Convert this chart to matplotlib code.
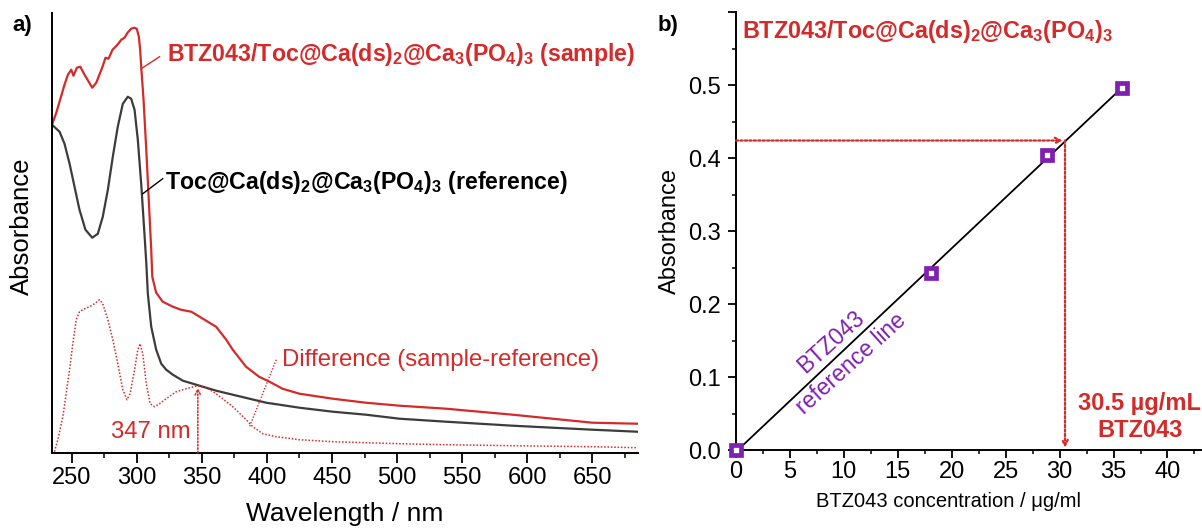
import numpy as np
import matplotlib
matplotlib.use('Agg')
import matplotlib.pyplot as plt
from matplotlib.ticker import MultipleLocator, FixedLocator

plt.rcParams['font.family'] = ['Liberation Sans', 'DejaVu Sans']
plt.rcParams['mathtext.fontset'] = 'custom'
plt.rcParams['mathtext.rm'] = 'Liberation Sans'
plt.rcParams['mathtext.bf'] = 'Liberation Sans:bold'

RED = '#d42a2a'
GREY = '#3c3c3c'
PURPLE = '#8020b0'

# panel a: UV-vis spectra (arbitrary absorbance units)
wl_sample = [235, 238.3, 244.6, 247.2, 249.8, 251.5, 254.1, 256.7, 260, 265.9, 269, 273.8,
             276.1, 278.4, 281.5, 285.3, 288.2, 290.7, 293, 295.8, 298.4, 300.1, 301.7, 302.7,
             303.5, 305.3, 307.4, 309.3, 311.2, 312, 315, 320, 327.8, 334, 342, 348.3, 354.6,
             361, 368.8, 373.8, 384, 394, 402, 412, 425, 450.6, 476, 502, 537.6, 588.8, 650, 684.3]
abs_sample = [3.28, 3.40, 3.68, 3.78, 3.83, 3.77, 3.85, 3.86, 3.78, 3.65, 3.70, 3.86,
              3.95, 3.94, 4.03, 4.08, 4.13, 4.15, 4.20, 4.24, 4.25, 4.24, 4.16, 4.03,
              3.86, 3.53, 3.03, 2.53, 2.03, 1.76, 1.60, 1.51, 1.46, 1.43, 1.41, 1.36, 1.31,
              1.26, 1.13, 1.03, 0.86, 0.76, 0.71, 0.64, 0.59, 0.54, 0.50, 0.47, 0.44, 0.38, 0.30, 0.29]

wl_ref = [235, 238.3, 240.8, 244.6, 248.5, 252.3, 256.1, 260.7, 265.9, 270.2, 274, 277.9,
          281.7, 285.5, 289.4, 293.2, 295.8, 298.4, 300.9, 303.5, 306, 307.4, 308.6, 311.2,
          315, 318.9, 322.7, 327.8, 335.5, 348.3, 361.1, 373.8, 399.5, 425, 450.6, 476.2,
          501.8, 537.7, 588.8, 650.2, 684.3]
abs_ref = [3.28, 3.24, 3.21, 3.09, 2.89, 2.66, 2.43, 2.23, 2.15, 2.19, 2.36, 2.63,
           2.96, 3.26, 3.49, 3.56, 3.54, 3.43, 3.13, 2.69, 2.19, 1.90, 1.59, 1.26,
           1.03, 0.89, 0.83, 0.78, 0.72, 0.67, 0.62, 0.58, 0.50, 0.45, 0.41, 0.38,
           0.34, 0.31, 0.27, 0.23, 0.21]

wl_diff = [236.9, 239.5, 243.3, 245.9, 248.5, 251, 253.6, 256.1, 260, 263.8, 267.7, 271.5,
           274, 277.9, 281.7, 285.5, 289.4, 292.5, 295, 298.4, 300.9, 302.7, 304.7, 307.4,
           310.4, 313.7, 317.6, 322.7, 330.4, 338.1, 347, 353.4, 361.1, 373.8, 384.1, 389.2,
           396.9, 407.2, 425, 450.6, 501.8, 537.9, 588.8, 650, 684.6]
abs_diff = [0.01, 0.13, 0.36, 0.59, 0.83, 1.09, 1.33, 1.41, 1.44, 1.46, 1.49, 1.53,
            1.49, 1.33, 1.13, 0.89, 0.63, 0.53, 0.59, 0.83, 1.03, 1.09, 0.99, 0.69,
            0.49, 0.46, 0.49, 0.54, 0.61, 0.64, 0.67, 0.65, 0.59, 0.46, 0.33, 0.26,
            0.19, 0.16, 0.13, 0.11, 0.09, 0.08, 0.07, 0.06, 0.05]

peak_wl = 347
peak_abs = 0.65

# panel b: calibration line
conc = [0, 18.1, 28.8, 35.8]
absb = [0.0, 0.243, 0.404, 0.496]
sample_abs = 0.424
sample_conc = 30.5

fig = plt.figure(figsize=(12.02, 5.28), dpi=100)

# ---------------- panel a
ax = fig.add_axes([0.04326, 0.1426, 0.4875, 0.8333])
ax.plot(wl_sample, abs_sample, color=RED, lw=1.6)
ax.plot(wl_ref, abs_ref, color=GREY, lw=1.6)
ax.plot(wl_diff, abs_diff, color=RED, lw=1.1, ls=(0, (1, 1.2)))
ax.set_xlim(235, 685)
ax.set_ylim(0, 4.4)
ax.spines['top'].set_visible(False)
ax.spines['right'].set_visible(False)
for s in ['left', 'bottom']:
    ax.spines[s].set_linewidth(1.4)
ax.set_yticks([])
ax.xaxis.set_major_locator(MultipleLocator(50))
ax.xaxis.set_minor_locator(MultipleLocator(25))
ax.tick_params(axis='x', which='major', direction='out', length=7, width=1.3, labelsize=17, pad=3)
ax.tick_params(axis='x', which='minor', direction='out', length=3.6, width=1.1)
ax.set_xlabel('Wavelength / nm', fontsize=19)
ax.xaxis.set_label_coords(0.5, -0.112)
ax.set_ylabel('Absorbance', fontsize=18.5)
ax.yaxis.set_label_coords(-0.031, 0.515)

ax.text(323, 3.98, r'BTZ043/Toc@Ca(ds)$_\mathbf{2}$@Ca$_\mathbf{3}$(PO$_\mathbf{4}$)$_\mathbf{3}$ (sample)',
        color=RED, fontsize=16.7, fontweight='bold', va='center', ha='left')
ax.plot([303.5, 317.6], [3.84, 3.96], color=RED, lw=1)
ax.text(322, 2.70, r'Toc@Ca(ds)$_\mathbf{2}$@Ca$_\mathbf{3}$(PO$_\mathbf{4}$)$_\mathbf{3}$ (reference)',
        color='black', fontsize=16.7, fontweight='bold', va='center', ha='left')
ax.plot([304.7, 320], [2.59, 2.74], color='black', lw=1)
ax.text(412, 0.93, 'Difference (sample-reference)', color=RED, fontsize=17.2, va='center', ha='left')
ax.plot([407.2, 386.7], [0.93, 0.26], color=RED, lw=1, ls=(0, (1, 1.2)))
ax.annotate('', xy=(peak_wl, peak_abs), xytext=(peak_wl, 0),
            arrowprops=dict(arrowstyle='->', color=RED, lw=1.1, ls=(0, (1, 1.2)),
                            shrinkA=0, shrinkB=0))
ax.text(341.5, 0.21, '%d nm' % peak_wl, color=RED, fontsize=17.2, va='center', ha='right')
fig.text(22 / 1202, 1 - 25 / 528, 'a)', fontsize=16, fontweight='bold', va='center', ha='center')

# ---------------- panel b
bx = fig.add_axes([0.6123, 0.1477, 0.3877, 0.8295])
k, b0 = np.polyfit(conc, absb, 1)
xl = np.array([conc[0], conc[-1]])
bx.plot(xl, k * xl + b0, color='black', lw=1.3, zorder=2)
bx.plot(conc, absb, ls='none', marker='s', ms=7, mew=3.4, mec=PURPLE, mfc='white',
        zorder=3, clip_on=False)
bx.annotate('', xy=(sample_conc - 0.2, sample_abs), xytext=(0, sample_abs),
            arrowprops=dict(arrowstyle='->', color=RED, lw=1.6, ls=(0, (1, 1)),
                            shrinkA=0, shrinkB=0))
bx.annotate('', xy=(sample_conc, 0.003), xytext=(sample_conc, sample_abs),
            arrowprops=dict(arrowstyle='->', color=RED, lw=1.6, ls=(0, (1, 1)),
                            shrinkA=0, shrinkB=0))
bx.set_xlim(0, 43.2)
bx.set_ylim(0, 0.6)
bx.spines['top'].set_visible(False)
bx.spines['right'].set_visible(False)
for s in ['left', 'bottom']:
    bx.spines[s].set_linewidth(1.4)
bx.xaxis.set_major_locator(MultipleLocator(5))
bx.xaxis.set_minor_locator(MultipleLocator(2.5))
bx.yaxis.set_major_locator(FixedLocator([0, 0.1, 0.2, 0.3, 0.4, 0.5, 0.6]))
bx.yaxis.set_minor_locator(MultipleLocator(0.05))
bx.set_yticklabels(['0.0', '0.1', '0.2', '0.3', '0.4', '0.5', ''])
bx.tick_params(which='major', direction='out', length=5.8, width=1.3, labelsize=17)
bx.tick_params(which='minor', direction='out', length=3, width=1.1)
bx.tick_params(axis='x', pad=2)
bx.tick_params(axis='y', pad=5)
bx.set_xlabel('BTZ043 concentration / μg/ml', fontsize=14.5)
bx.xaxis.set_label_coords(0.455, -0.097)
bx.set_ylabel('Absorbance', fontsize=17)
bx.yaxis.set_label_coords(-0.118, 0.5)

bx.text(0.6, 0.573, r'BTZ043/Toc@Ca(ds)$_\mathbf{2}$@Ca$_\mathbf{3}$(PO$_\mathbf{4}$)$_\mathbf{3}$',
        color=RED, fontsize=16.8, fontweight='bold', va='center', ha='left')
bx.text(37.45, 0.045, '30.5 µg/mL\nBTZ043', color=RED, fontsize=17, fontweight='bold',
        va='center', ha='center', linespacing=1.25)
tx = 9.72
bx.text(tx, k * tx + b0, 'BTZ043\nreference line', color=PURPLE, fontsize=16.5,
        rotation=42, rotation_mode='anchor', va='center', ha='center', linespacing=1.4)
fig.text(668 / 1202, 1 - 25 / 528, 'b)', fontsize=16, fontweight='bold', va='center', ha='center')

fig.savefig('out.png', dpi=100)
